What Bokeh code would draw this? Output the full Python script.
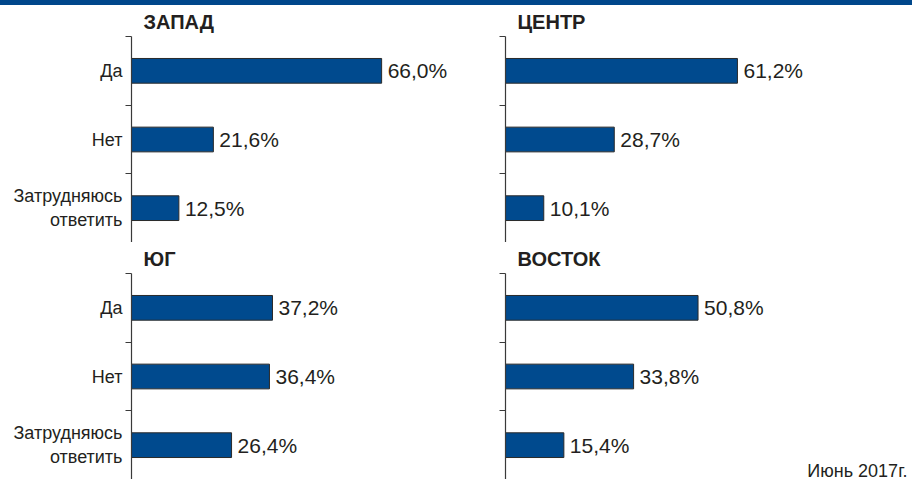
from bokeh.plotting import figure
from bokeh.layouts import column, row
from bokeh.models import Range1d, FixedTicker, ColumnDataSource, Label, Div
from bokeh.core.properties import value
from bokeh.embed import file_html
from bokeh.resources import INLINE

# ---------------- data ----------------
categories = ["Да", "Нет", "Затрудняюсь\nответить"]
regions = ["ЗАПАД", "ЦЕНТР", "ЮГ", "ВОСТОК"]
zapad = [66.0, 21.6, 12.5]
tsentr = [61.2, 28.7, 10.1]
yug = [37.2, 36.4, 26.4]
vostok = [50.8, 33.8, 15.4]
footnote = "Июнь 2017г."

# ---------------- style ----------------
BLUE = "#004a8e"
BAND = "#00478b"
AXIS = "#3a3a3a"
TXT = "#231f20"
FONT = "Liberation Sans"
PX_PER_PCT = 3.79
FIG_W = 456
FIG_H = 237


def panel(title, vals, show_labels, border_left):
    n = len(categories)
    ys = [n - i - 0.5 for i in range(n)]
    labels = [("%.1f" % v).replace(".", ",") + "%" for v in vals]
    src = ColumnDataSource(dict(y=ys, v=vals, lbl=labels))
    frame_w = FIG_W - border_left
    p = figure(width=FIG_W, height=FIG_H, output_backend="svg", toolbar_location=None,
               x_range=Range1d(0, frame_w / PX_PER_PCT), y_range=Range1d(0, n),
               min_border_left=border_left, min_border_right=0,
               min_border_top=30, min_border_bottom=0)
    p.outline_line_color = None
    p.grid.visible = False
    p.xaxis.visible = False
    p.background_fill_color = "white"
    p.border_fill_color = "white"

    p.title.text = title
    p.title.align = "left"
    p.title.offset = 12
    p.title.standoff = 7
    p.title.text_font = FONT
    p.title.text_font_size = "20px"
    p.title.text_font_style = "bold"
    p.title.text_color = TXT

    ax = p.yaxis[0]
    ax.ticker = FixedTicker(ticks=ys, minor_ticks=[float(i) for i in range(n + 1)])
    if show_labels:
        ax.major_label_overrides = {y: c for y, c in zip(ys, categories)}
    else:
        ax.major_label_overrides = {y: "" for y in ys}
    ax.axis_line_color = AXIS
    ax.axis_line_width = 1.2
    ax.major_tick_out = 0
    ax.major_tick_in = 0
    ax.minor_tick_out = 6
    ax.minor_tick_in = 0
    ax.minor_tick_line_color = AXIS
    ax.minor_tick_line_width = 1.2
    ax.major_label_standoff = 3
    ax.major_label_text_font = FONT
    ax.major_label_text_font_size = "18px"
    ax.major_label_text_color = TXT

    p.hbar(y="y", left=0, right="v", height=0.36, source=src,
           fill_color=BLUE, line_color="#2a2a2a", line_width=1)
    p.text(x="v", y="y", text="lbl", source=src, x_offset=6,
           text_baseline="middle", text_align="left",
           text_font=value(FONT), text_font_size="21px", text_color=TXT)
    return p


tl = panel(regions[0], zapad, True, 131)
tr = panel(regions[1], tsentr, False, 49)
bl = panel(regions[2], yug, True, 131)
br = panel(regions[3], vostok, False, 49)

br.add_layout(Label(x=402, y=-1, x_units="screen", y_units="screen", text=footnote,
                    text_align="right", text_baseline="bottom",
                    text_font=FONT, text_font_size="18px", text_color=TXT))

band = Div(text="", width=2 * FIG_W, height=5,
           styles={"background-color": BAND, "margin": "0", "padding": "0"})

layout = column(band, row(tl, tr, spacing=0), row(bl, br, spacing=0), spacing=0)

p = layout
open("out.html", "w").write(file_html(p, INLINE))
